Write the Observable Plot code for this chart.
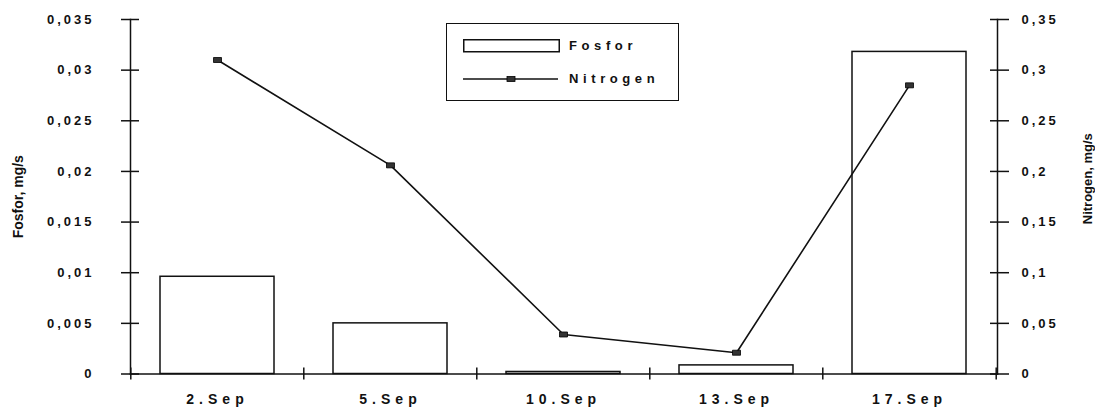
<!DOCTYPE html>
<html>
<head>
<meta charset="utf-8">
<script src="https://cdn.jsdelivr.net/npm/d3@7"></script>
<script src="https://cdn.jsdelivr.net/npm/@observablehq/plot@0.6"></script>
<style>
  body { margin: 0; background: #fff; }
  #chart { position: relative; width: 1095px; height: 411px; font-family: "Liberation Sans", Arial, sans-serif; }
  #legend {
    position: absolute; left: 446px; top: 23px; width: 231px; height: 76px;
    border: 1.5px solid #111; background: #fff; box-sizing: content-box;
  }
  #legend .row { position: absolute; left: 16px; display: flex; align-items: center; }
  #legend .lab { font-weight: bold; font-size: 13px; letter-spacing: 4.6px; color: #111; margin-left: 9px; }
</style>
</head>
<body>
<div id="chart"></div>
<script>
// Sampling dates and measured transport
const dates = ["2.Sep", "5.Sep", "10.Sep", "13.Sep", "17.Sep"];
const fosfor = [0.0096, 0.005, 0.0002, 0.00085, 0.0318];    // mg/s, left axis
const nitrogen = [0.31, 0.206, 0.039, 0.021, 0.285];        // mg/s, right axis
const fosforTicks = [0, 0.005, 0.01, 0.015, 0.02, 0.025, 0.03, 0.035];
const nitrogenTicks = [0, 0.05, 0.1, 0.15, 0.2, 0.25, 0.3, 0.35];
const fosforMax = 0.035;
const nitrogenMax = 0.35;
const ratio = nitrogenMax / fosforMax; // right axis = left axis × ratio

const rows = dates.map((d, i) => ({date: d, fosfor: fosfor[i], nitrogen: nitrogen[i]}));

const W = 1095, H = 411;
const mL = 130, mR = 98, mT = 19, mB = 37.5;
const step = (W - mL - mR) / dates.length;

// comma decimal separator
const fmt = (d) => String(+d.toFixed(4)).replace(".", ",");

// small filled rectangle marker for the nitrogen series
const rectSymbol = {draw(ctx) { ctx.rect(-4, -2.5, 8, 5); }};

const plot = Plot.plot({
  width: W, height: H,
  marginLeft: mL, marginRight: mR, marginTop: mT, marginBottom: mB,
  style: {fontFamily: "'Liberation Sans', Arial, sans-serif", fontWeight: "bold", color: "#111", background: "#fff"},
  // evenly spaced categories: half of the inner gap on each outer side
  x: {domain: dates, paddingInner: 0.34, paddingOuter: 0.17, label: null},
  y: {domain: [0, fosforMax], label: null},
  marks: [
    Plot.barY(rows, {x: "date", y: "fosfor", fill: "white", stroke: "#111", strokeWidth: 1.5}),
    Plot.line(rows, {x: "date", y: (d) => d.nitrogen / ratio, stroke: "#111", strokeWidth: 1.6}),
    Plot.dot(rows, {x: "date", y: (d) => d.nitrogen / ratio, symbol: rectSymbol, fill: "#333", stroke: "#000", strokeWidth: 0.8}),
    // axis lines
    Plot.frame({anchor: "left", stroke: "#111", strokeWidth: 1.5}),
    Plot.frame({anchor: "right", stroke: "#111", strokeWidth: 1.5}),
    Plot.frame({anchor: "bottom", stroke: "#111", strokeWidth: 1.5}),
    // category separators on the x axis
    Plot.tickX(dates, {x: (d) => d, dx: -step / 2, insetTop: H - mT - mB - 6, insetBottom: -6, stroke: "#111", strokeWidth: 1.5}),
    Plot.tickX(dates.slice(-1), {x: (d) => d, dx: step / 2, insetTop: H - mT - mB - 6, insetBottom: -6, stroke: "#111", strokeWidth: 1.5}),
    // left axis (fosfor): ticks crossing the axis line
    Plot.axisY({anchor: "left", ticks: fosforTicks, tickSize: 9, tickPadding: 27, tickFormat: fmt, fontSize: 13, strokeWidth: 1.5}),
    Plot.axisY({anchor: "left", ticks: fosforTicks, tickSize: -9, tickFormat: () => "", strokeWidth: 1.5}),
    // right axis (nitrogen)
    Plot.axisY({anchor: "right", ticks: fosforTicks, tickSize: 11, tickPadding: 13, tickFormat: (d) => fmt(d * ratio), fontSize: 13, strokeWidth: 1.5}),
    Plot.axisY({anchor: "right", ticks: fosforTicks, tickSize: -8, tickFormat: () => "", strokeWidth: 1.5}),
    Plot.axisX({tickSize: 0, tickPadding: 20, fontSize: 14}),
    // axis titles
    Plot.text(["Fosfor, mg/s"], {frameAnchor: "left", textAnchor: "middle", dx: -112, rotate: -90, fontSize: 14, ariaLabel: "fosfor-title"}),
    Plot.text(["Nitrogen, mg/s"], {frameAnchor: "right", textAnchor: "middle", dx: 90, dy: -18, rotate: -90, fontSize: 13, ariaLabel: "nitrogen-title"})
  ]
});

// letter spacing for the typewriter-like labels
d3.select(plot).selectAll('g[aria-label="y-axis tick label"] text').style("letter-spacing", "3px");
d3.select(plot).selectAll('g[aria-label="x-axis tick label"] text').style("letter-spacing", "5px");
d3.select(plot).selectAll('g[aria-label="fosfor-title"] text').style("letter-spacing", "1.8px");
d3.select(plot).selectAll('g[aria-label="nitrogen-title"] text').style("letter-spacing", "1.5px");

const chart = document.getElementById("chart");
chart.appendChild(plot);

// legend box
const legend = document.createElement("div");
legend.id = "legend";
legend.innerHTML = `
  <div class="row" style="top:14px">
    <svg width="97" height="14"><rect x="0.75" y="0.75" width="95.5" height="12" fill="white" stroke="#111" stroke-width="1.5"/></svg>
    <span class="lab">Fosfor</span>
  </div>
  <div class="row" style="top:47px">
    <svg width="97" height="14"><line x1="0" x2="95" y1="7" y2="7" stroke="#111" stroke-width="1.6"/><rect x="44" y="4.5" width="8" height="5" fill="#333" stroke="#000" stroke-width="0.8"/></svg>
    <span class="lab">Nitrogen</span>
  </div>`;
chart.appendChild(legend);
</script>
</body>
</html>
